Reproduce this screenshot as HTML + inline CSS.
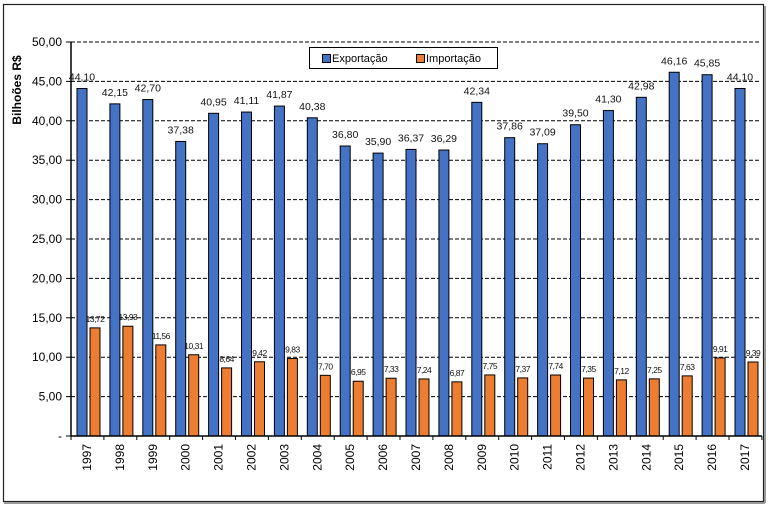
<!DOCTYPE html>
<html><head><meta charset="utf-8"><style>
body{margin:0;background:#fff;width:769px;height:505px;overflow:hidden}
svg{font-family:"Liberation Sans",sans-serif}
</style></head><body>
<svg id="c" width="769" height="505">
<rect x="3.5" y="4.5" width="760" height="497" fill="#fff" stroke="#222" stroke-width="1.2"/>
<line x1="4" y1="503" x2="765" y2="503" stroke="#999" stroke-width="2"/>
<line x1="765" y1="6" x2="765" y2="503" stroke="#999" stroke-width="2"/>
<text transform="translate(21,90) rotate(-90)" text-anchor="middle" font-size="12" font-weight="bold">Bilhoões R$</text>
<g id="plot"></g>
<g>
<rect x="309.5" y="47.5" width="188" height="21" fill="#fff" stroke="#000"/>
<g><rect x="322.5" y="54.5" width="8" height="8" fill="#4472c4" stroke="#000"/><text x="332" y="62" font-size="11">Exportação</text></g>
<g><rect x="416.5" y="54.5" width="8" height="8" fill="#ed7d31" stroke="#000"/><text x="426" y="62" font-size="11">Importação</text></g>
</g>
</svg>
<script>
const years=["1997","1998","1999","2000","2001","2002","2003","2004","2005","2006","2007","2008","2009","2010","2011","2012","2013","2014","2015","2016","2017"];
const exportacao=[44.10,42.15,42.70,37.38,40.95,41.11,41.87,40.38,36.80,35.90,36.37,36.29,42.34,37.86,37.09,39.50,41.30,42.98,46.16,45.85,44.10];
const importacao=[13.72,13.93,11.56,10.31,8.64,9.42,9.83,7.70,6.95,7.33,7.24,6.87,7.75,7.37,7.74,7.35,7.12,7.25,7.63,9.91,9.39];
const yTicks=[0,5,10,15,20,25,30,35,40,45,50];
const X0=71,STEP=32.9,Y0=436,PPU=7.88;
const y=v=>Y0-v*PPU, x=i=>X0+i*STEP;
const fmt=v=>v.toFixed(2).replace('.',',');
const NS="http://www.w3.org/2000/svg";
const g=document.getElementById('plot');
function mk(t,a,p){const e=document.createElementNS(NS,t);for(const k in a)e.setAttribute(k,a[k]);(p||g).appendChild(e);return e;}
yTicks.forEach(t=>{
  if(t>0){const l=mk('line',{x1:X0,x2:760,y1:y(t),y2:y(t),stroke:'#000','stroke-dasharray':'4,2','stroke-width':1});
  
  }
  mk('line',{x1:X0-5,x2:X0,y1:y(t),y2:y(t),stroke:'#000'});
  const tx=mk('text',{x:X0-9,y:y(t)+4,'text-anchor':'end','font-size':12});
  tx.textContent=t===0?'-':fmt(t);
  
  
});
years.forEach((yr,i)=>{
  const cx=x(i);
  const b=mk('rect',{x:cx+6,y:y(exportacao[i]),width:10,height:exportacao[i]*PPU,fill:'#4472c4',stroke:'#000','stroke-width':1});
  
  
  const o=mk('rect',{x:cx+19,y:y(importacao[i]),width:10,height:importacao[i]*PPU,fill:'#ed7d31',stroke:'#000','stroke-width':1});
  
  
  const le=mk('text',{x:cx+11,y:y(exportacao[i])-8,'text-anchor':'middle','font-size':10.5,fill:'#111'});
  le.textContent=fmt(exportacao[i]);
  
  
  const li=mk('text',{x:cx+24,y:y(importacao[i])-6,'text-anchor':'middle','font-size':8.5,'letter-spacing':'-0.5',fill:'#111'});
  li.textContent=fmt(importacao[i]);
  
  
  mk('line',{x1:cx,x2:cx,y1:Y0,y2:Y0+4,stroke:'#000'});
  const yl=mk('text',{transform:`translate(${cx+20},${Y0+8}) rotate(-90)`,'text-anchor':'end','font-size':12});
  yl.textContent=yr;
  
  
});
mk('line',{x1:x(21),x2:x(21),y1:Y0,y2:Y0+4,stroke:'#000'});
mk('line',{x1:X0,x2:X0,y1:y(50),y2:Y0,stroke:'#000','stroke-width':1.5});
mk('line',{x1:X0,x2:x(21),y1:Y0,y2:Y0,stroke:'#000','stroke-width':1.5});
</script>
</body></html>
